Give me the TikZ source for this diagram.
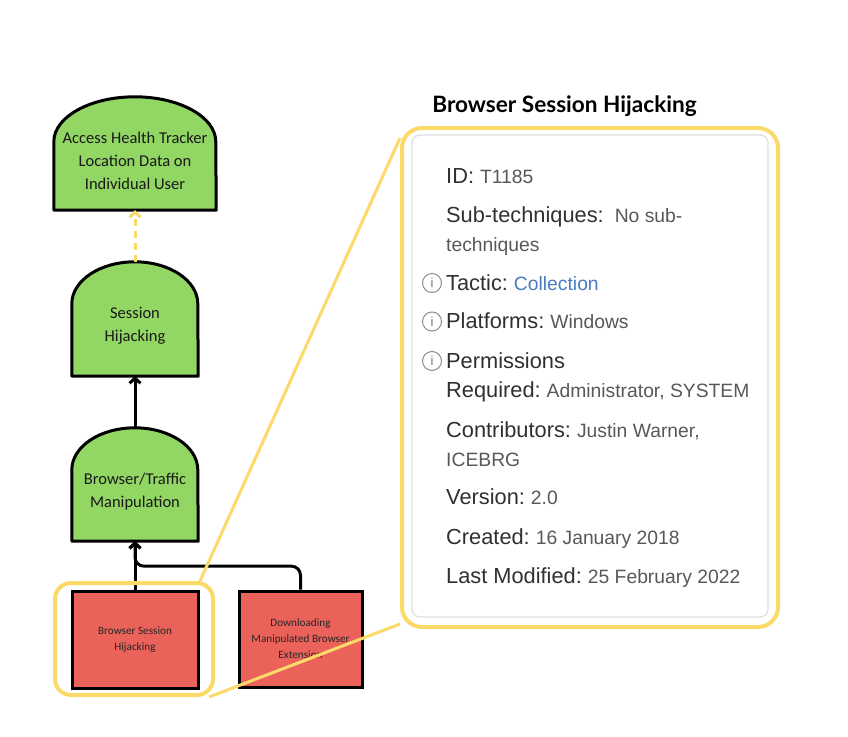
\documentclass[tikz,border=0pt]{standalone}
\usepackage{fontspec}
\setmainfont{Liberation Sans}
\newfontfamily\calfont{Carlito}
\newfontfamily\titlefont{Lato}
\usetikzlibrary{arrows.meta,calc,backgrounds}
\definecolor{gfill}{RGB}{146,214,100}
\definecolor{rfill}{RGB}{234,98,90}
\definecolor{hyel}{RGB}{252,218,106}
\definecolor{labc}{RGB}{48,48,48}
\definecolor{valc}{RGB}{88,88,88}
\definecolor{linkc}{RGB}{74,124,192}
\newcommand\domeshape[3]{%
  \filldraw[domestyle] (#1.south west) -- ([yshift=-#3pt]#1.north west)
    arc[start angle=180,end angle=0,x radius=#2pt,y radius=#3pt] -- (#1.south east) -- cycle;}
\newcommand\lab[1]{{\fontsize{21.8}{24}\selectfont\color{labc}#1}}
\newcommand\val[1]{{\fontsize{19.3}{22}\selectfont\color{valc}#1}}
\newcommand\kv[2]{\lab{#1}\hspace{6pt}\val{#2}}
\begin{document}
\begin{tikzpicture}[x=1pt,y=-1pt,
  boxnode/.style={rectangle,inner sep=0pt},
  domestyle/.style={fill=gfill,draw=black,line width=3pt,line join=round},
  gtext/.style={align=center,font=\calfont\fontsize{16.5}{23}\selectfont,text=black!90},
  redbox/.style={rectangle,fill=rfill,draw=black,line width=3pt,inner sep=0pt,
    align=center,font=\calfont\fontsize{11.2}{16}\selectfont,text=black!85},
  barrow/.style={draw=black,line width=3pt,-{Straight Barb[length=5pt,width=11pt]}},
  yarrow/.style={draw=hyel,line width=3pt,dash pattern=on 7pt off 5pt,-{Straight Barb[length=5pt,width=11pt]}},
  hilite/.style={rectangle,draw=hyel,line width=4pt,rounded corners=16pt,inner sep=0pt},
  yline/.style={draw=hyel,line width=3pt},
  infoline/.style={anchor=base west,inner sep=0pt},
  icon/.style={circle,draw=black!45,line width=1pt,minimum size=19pt,inner sep=0pt,
    font=\fontsize{13}{13}\selectfont,text=black!55}
]
\useasboundingbox (0,0) rectangle (848,736);
% attack tree nodes
\node[boxnode,minimum width=162pt,minimum height=113pt] (A) at (135,153.5) {};
\node[boxnode,minimum width=126pt,minimum height=114pt] (S) at (135,319) {};
\node[boxnode,minimum width=126pt,minimum height=113pt] (B) at (135,484.5) {};
\begin{pgfonlayer}{background}
  \fill[white] (0,0) rectangle (848,736);
  \domeshape{A}{81}{45}
  \domeshape{S}{63}{42}
  \domeshape{B}{63}{42}
\end{pgfonlayer}
\node[gtext] (At) at (135,161) {Access Health Tracker\\Location Data on\\Individual User};
\node[gtext] (St) at (135,326) {Session\\Hijacking};
\node[gtext] (Bt) at (135,491.5) {Browser/Traffic\\Manipulation};
\node[redbox,minimum width=126pt,minimum height=97pt] (R1) at (135,639.5) {Browser Session\\Hijacking};
\node[redbox,minimum width=123pt,minimum height=96pt] (R2) at (300.5,639) {Downloading\\Manipulated Browser\\Extension};
% connectors
\draw[yarrow] (S.north) -- (A.south);
\draw[barrow] (B.north) -- (S.south);
\draw[barrow] (R1.north) -- (B.south);
\draw[barrow,rounded corners=9pt] (R2.north) |- ($(B.south)+(0,25)$) -- (B.south);
% highlight and panel
\node[hilite,minimum width=158pt,minimum height=112pt] (H) at (134,639) {};
\node[rectangle,draw=hyel,line width=4pt,rounded corners=20pt,minimum width=376pt,minimum height=499pt,inner sep=0pt] (P) at (590,377.5) {};
\node[rectangle,draw=black!12,fill=white,line width=1.3pt,rounded corners=8pt,minimum width=356pt,minimum height=482pt,inner sep=0pt] (Q) at (590,376) {};
\draw[yline] ([xshift=-15pt]H.north east) -- ([yshift=-12pt]P.north west);
\draw[yline] ([xshift=-6pt]H.south east) -- ([yshift=5pt]P.south west);
\node[font=\titlefont\bfseries\fontsize{22.6}{26}\selectfont] (T) at (564.5,106) {Browser Session Hijacking};
% info text
\node[infoline] (l1) at (446,183) {\kv{ID:}{T1185}};
\node[infoline] (l2) at (446,222.5) {\lab{Sub-techniques:}\hspace{11pt}\val{No sub-}};
\node[infoline] (l3) at (446,251) {\val{techniques}};
\node[infoline] (l4) at (446,290) {\kv{Tactic:}{\color{linkc}Collection}};
\node[infoline] (l5) at (446,328.5) {\kv{Platforms:}{Windows}};
\node[infoline] (l6) at (446,368) {\lab{Permissions}};
\node[infoline] (l7) at (446,397) {\kv{Required:}{Administrator, SYSTEM}};
\node[infoline] (l8) at (446,437) {\kv{Contributors:}{Justin Warner,}};
\node[infoline] (l9) at (446,466) {\val{ICEBRG}};
\node[infoline] (l10) at (446,504) {\kv{Version:}{2.0}};
\node[infoline] (l11) at (446,544) {\kv{Created:}{16 January 2018}};
\node[infoline] (l12) at (446,583) {\kv{Last Modified:}{25 February 2022}};
\node[icon] (i1) at (432,283) {i};
\node[icon] (i2) at (432,321.5) {i};
\node[icon] (i3) at (432,361) {i};
\end{tikzpicture}
\end{document}
